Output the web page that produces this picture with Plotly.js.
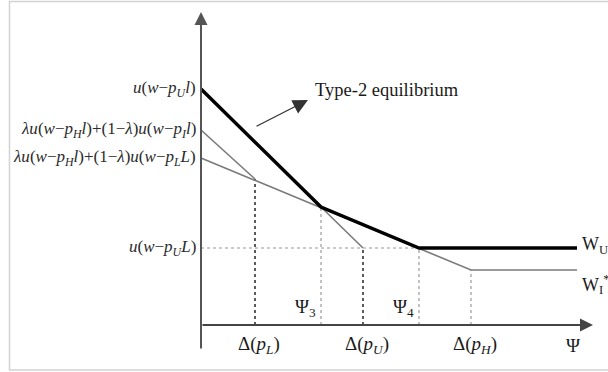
<!DOCTYPE html>
<html>
<head>
<meta charset="utf-8">
<script src="https://cdn.plot.ly/plotly-3.0.1.min.js"></script>
<style>
html, body { margin: 0; padding: 0; background: #fff; }
#fig { width: 608px; height: 372px; }
</style>
</head>
<body>
<div id="fig"></div>
<script>
// values (Psi on x, utility on y)
var psiU = [0, 12.0, 21.8, 37.6];      // W_U kinks (bold)
var utilU = [23.6, 11.8, 7.7, 7.7];
var psiI = [0, 27.0, 37.6];            // W_I* (grey)
var utilI = [16.7, 5.5, 5.5];
var psiA = [0, 5.4];                   // lambda u(..p_I l) segment
var utilA = [19.5, 14.6];
var psiC = [12.0, 16.2];               // steep continuation
var utilC = [11.8, 7.7];

var dropX = [5.4, 12.0, 16.2, 21.8, 27.0];
var dropTop = [14.6, 11.8, 7.7, 7.7, 5.5];
var dropDark = [true, false, true, false, false];

var xLabels = ['Δ(<i>p</i><sub><i>L</i></sub>)', 'Δ(<i>p</i><sub><i>U</i></sub>)', 'Δ(<i>p</i><sub><i>H</i></sub>)'];
var xLabelPos = [5.4, 16.2, 27.0];
var psiLabels = ['Ψ<sub>3</sub>', 'Ψ<sub>4</sub>'];
var psiLabelPos = [12.0, 21.8];

var yLabels = [
  '<i>u</i>(<i>w</i>−<i>p</i><sub><i>U</i></sub><i>l</i>)',
  '<i>λu</i>(<i>w</i>−<i>p</i><sub><i>H</i></sub><i>l</i>)+(1−<i>λ</i>)<i>u</i>(<i>w</i>−<i>p</i><sub><i>I</i></sub><i>l</i>)',
  '<i>λu</i>(<i>w</i>−<i>p</i><sub><i>H</i></sub><i>l</i>)+(1−<i>λ</i>)<i>u</i>(<i>w</i>−<i>p</i><sub><i>L</i></sub><i>L</i>)',
  '<i>u</i>(<i>w</i>−<i>p</i><sub><i>U</i></sub><i>L</i>)'
];
var yLabelPos = [23.6, 19.5, 16.7, 7.7];

var serif = 'Liberation Serif';

var data = [
  { x: psiI, y: utilI, mode: 'lines', line: { color: '#7a7a7a', width: 1.6 }, hoverinfo: 'skip' },
  { x: psiA, y: utilA, mode: 'lines', line: { color: '#7a7a7a', width: 1.6 }, hoverinfo: 'skip' },
  { x: psiC, y: utilC, mode: 'lines', line: { color: '#7a7a7a', width: 1.6 }, hoverinfo: 'skip' },
  { x: psiU, y: utilU, mode: 'lines', line: { color: '#000', width: 3.5 }, hoverinfo: 'skip' }
];

var shapes = [
  // picture frame
  { type: 'rect', xref: 'x', yref: 'y', x0: -19.15, x1: 45, y0: -4.5, y1: 32.35,
    line: { color: '#d2d2d2', width: 1.5 }, layer: 'below' },
  // dotted guide at u(w-p_U L)
  { type: 'line', xref: 'x', yref: 'y', x0: 0, x1: psiU[2], y0: utilU[2], y1: utilU[2],
    line: { color: '#9a9a9a', width: 1.2, dash: 'dot' }, layer: 'below' }
];
for (var i = 0; i < dropX.length; i++) {
  shapes.push({ type: 'line', xref: 'x', yref: 'y', x0: dropX[i], x1: dropX[i], y0: 0, y1: dropTop[i],
    line: { color: dropDark[i] ? '#333' : '#9a9a9a', width: dropDark[i] ? 1.6 : 1.2, dash: 'dot' }, layer: 'below' });
}

var annotations = [
  // axes with arrow heads
  { x: 0, y: 31.3, ax: 0, ay: -2.5, xref: 'x', yref: 'y', axref: 'x', ayref: 'y', text: '',
    showarrow: true, arrowhead: 2, arrowsize: 1.3, arrowwidth: 2, arrowcolor: '#555' },
  { x: 39.2, y: 0, ax: 0, ay: 0, xref: 'x', yref: 'y', axref: 'x', ayref: 'y', text: '',
    showarrow: true, arrowhead: 2, arrowsize: 1.3, arrowwidth: 2, arrowcolor: '#444' },
  // pointer to the bold curve
  { x: 10.7, y: 22.5, ax: 5.4, ay: 19.8, xref: 'x', yref: 'y', axref: 'x', ayref: 'y', text: '',
    showarrow: true, arrowhead: 2, arrowsize: 2.3, arrowwidth: 1.3, arrowcolor: '#333' },
  { x: 11.2, y: 23.5, xref: 'x', yref: 'y', text: 'Type-2 equilibrium', showarrow: false,
    xanchor: 'left', yanchor: 'middle', font: { family: serif, size: 18.5, color: '#1a1a1a' } },
  { x: 37.9, y: 8.0, xref: 'x', yref: 'y', text: 'W<sub>U</sub>', showarrow: false,
    xanchor: 'left', yanchor: 'middle', font: { family: serif, size: 18, color: '#1a1a1a' } },
  { x: 37.9, y: 4.1, xref: 'x', yref: 'y', text: 'W<sub>I</sub><sup>*</sup>', showarrow: false,
    xanchor: 'left', yanchor: 'middle', font: { family: serif, size: 18, color: '#1a1a1a' } },
  { x: 37.2, y: -2.0, xref: 'x', yref: 'y', text: 'Ψ', showarrow: false,
    xanchor: 'center', yanchor: 'middle', font: { family: serif, size: 19, color: '#1a1a1a' } }
];
for (var j = 0; j < xLabels.length; j++) {
  annotations.push({ x: xLabelPos[j], y: -2.0, xref: 'x', yref: 'y', text: xLabels[j], showarrow: false,
    xanchor: 'center', yanchor: 'middle', xshift: 4, font: { family: serif, size: 19, color: '#1a1a1a' } });
}
for (var k = 0; k < psiLabels.length; k++) {
  annotations.push({ x: psiLabelPos[k], y: 1.7, xref: 'x', yref: 'y', text: psiLabels[k], showarrow: false,
    xanchor: 'right', yanchor: 'middle', xshift: -3, font: { family: serif, size: 19, color: '#1a1a1a' } });
}
for (var m = 0; m < yLabels.length; m++) {
  annotations.push({ x: 0, y: yLabelPos[m], xref: 'x', yref: 'y', text: yLabels[m], showarrow: false,
    xanchor: 'right', yanchor: 'middle', xshift: -3, font: { family: serif, size: 17, color: '#2a2a2a' } });
}

var hidden = { showgrid: false, zeroline: false, showticklabels: false, ticks: '', showline: false, fixedrange: true };

var layout = {
  width: 608, height: 372,
  margin: { l: 0, r: 0, t: 0, b: 0 },
  paper_bgcolor: '#fff', plot_bgcolor: '#fff',
  showlegend: false,
  xaxis: Object.assign({ range: [-20.1, 40.7] }, hidden),
  yaxis: Object.assign({ range: [-4.7, 32.5] }, hidden),
  shapes: shapes,
  annotations: annotations
};

Plotly.newPlot('fig', data, layout, { displayModeBar: false, staticPlot: true });
</script>
</body>
</html>
